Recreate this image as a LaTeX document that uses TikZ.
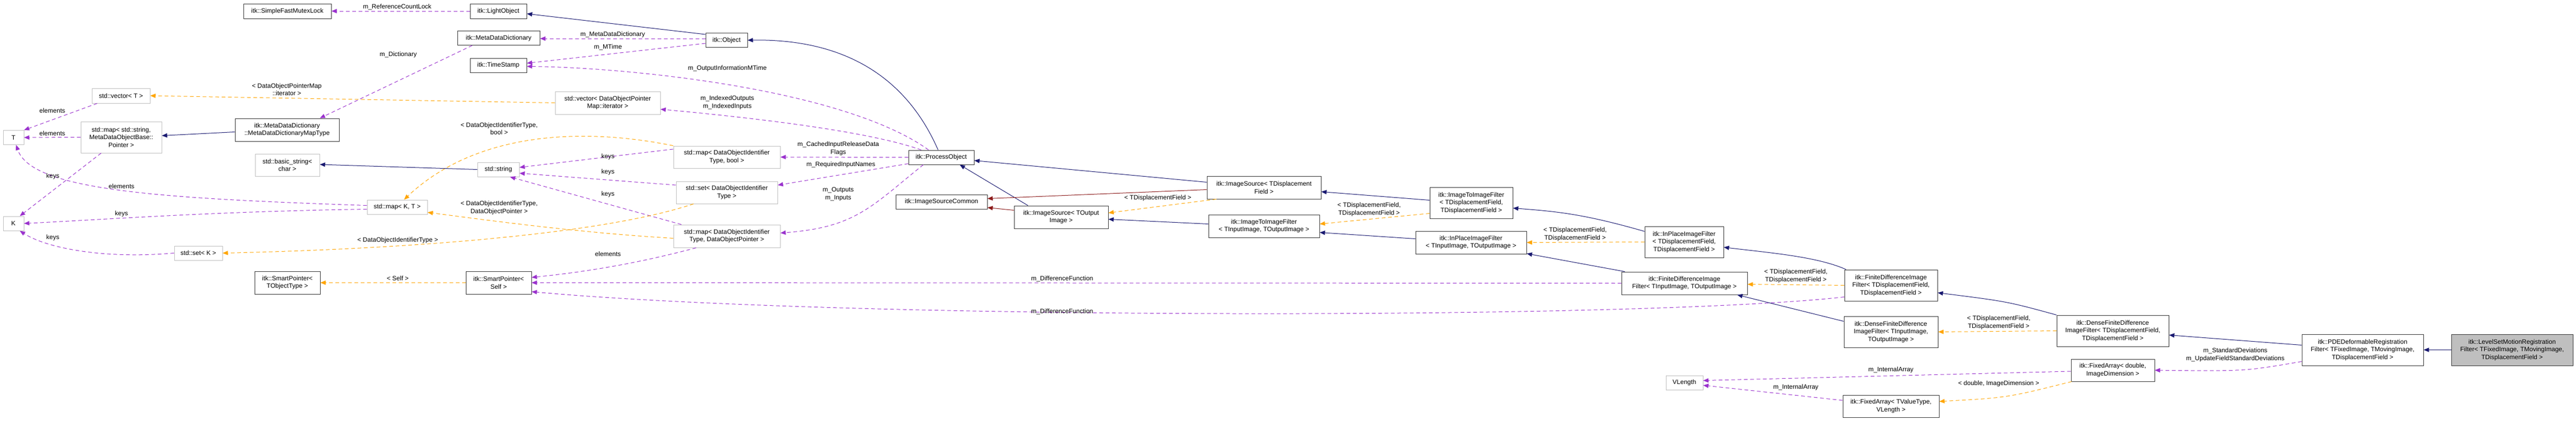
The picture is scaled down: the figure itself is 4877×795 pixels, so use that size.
\documentclass[tikz,border=0pt]{standalone}
\usepackage{fontspec}
\setmainfont{Liberation Sans}
\usetikzlibrary{arrows.meta}
\definecolor{navyc}{HTML}{191970}
\definecolor{purc}{HTML}{9A32CD}
\definecolor{orac}{HTML}{FFA500}
\definecolor{redc}{HTML}{8B1A1A}
\definecolor{grayb}{HTML}{BFBFBF}
\begin{document}
\begin{tikzpicture}[x=1pt,y=-1pt,
  box/.style={draw=black!80,line width=1pt,fill=white,inner sep=1pt,align=center,font=\fontsize{12}{14.5}\selectfont},
  gbox/.style={box,draw=grayb},
  lab/.style={inner sep=0pt,align=center,font=\fontsize{12}{14.5}\selectfont},
  tip/.style={-{Triangle[length=10pt,width=8pt]}},
  inh/.style={tip,draw=navyc,line width=1pt},
  priv/.style={tip,draw=redc,line width=1pt},
  use/.style={tip,draw=purc,line width=1pt,dash pattern=on 7pt off 5pt},
  tmpl/.style={tip,draw=orac,line width=1pt,dash pattern=on 7pt off 5pt}]
\useasboundingbox (0,0) rectangle (4877,795);
% nodes
\node[box,minimum width=166pt,minimum height=28pt] (sfml) at (544,21) {itk::SimpleFastMutexLock};
\node[box,minimum width=107pt,minimum height=28pt] (light) at (943.5,21) {itk::LightObject};
\node[box,minimum width=156pt,minimum height=27pt] (mdd) at (944,72) {itk::MetaDataDictionary};
\node[box,minimum width=107pt,minimum height=27pt] (ts) at (943.5,123.5) {itk::TimeStamp};
\node[box,minimum width=79pt,minimum height=27pt] (obj) at (1375.5,76) {itk::Object};
\node[gbox,minimum width=110pt,minimum height=28pt] (vecT) at (229,181) {std::vector< T >};
\node[gbox,minimum width=39pt,minimum height=27pt] (T) at (25.5,260) {T};
\node[gbox,minimum width=153pt,minimum height=59pt] (mapS) at (229.5,259.5) {std::map< std::string,\\MetaDataObjectBase::\\Pointer >};
\node[box,minimum width=197pt,minimum height=43pt] (mddm) at (543.5,245.5) {itk::MetaDataDictionary\\::MetaDataDictionaryMapType};
\node[gbox,minimum width=122pt,minimum height=42pt] (bstr) at (544,312) {std::basic\_string<\\char >};
\node[gbox,minimum width=39pt,minimum height=27pt] (K) at (25.5,422.5) {K};
\node[gbox,minimum width=91pt,minimum height=27pt] (setK) at (375.5,478.5) {std::set< K >};
\node[box,minimum width=124pt,minimum height=43pt] (spT) at (544,534.5) {itk::SmartPointer<\\TObjectType >};
\node[gbox,minimum width=199pt,minimum height=43pt] (vecD) at (1150.5,194.5) {std::vector< DataObjectPointer\\Map::iterator >};
\node[gbox,minimum width=79pt,minimum height=27pt] (str) at (943.5,320.5) {std::string};
\node[gbox,minimum width=114pt,minimum height=27pt] (mapKT) at (752,391.5) {std::map< K, T >};
\node[box,minimum width=124pt,minimum height=43pt] (spS) at (944,534.5) {itk::SmartPointer<\\Self >};
\node[gbox,minimum width=202pt,minimum height=42pt] (mapB) at (1376,297) {std::map< DataObjectIdentifier\\Type, bool >};
\node[gbox,minimum width=192pt,minimum height=42pt] (setD) at (1376,364) {std::set< DataObjectIdentifier\\Type >};
\node[gbox,minimum width=202pt,minimum height=43pt] (mapP) at (1376,446.5) {std::map< DataObjectIdentifier\\Type, DataObjectPointer >};
\node[box,minimum width=124pt,minimum height=27pt] (po) at (1782,297.5) {itk::ProcessObject};
\node[box,minimum width=173pt,minimum height=27pt] (isc) at (1782.5,381.5) {itk::ImageSourceCommon};
\node[box,minimum width=178pt,minimum height=43pt] (isO) at (2009,410.5) {itk::ImageSource< TOutput\\Image >};
\node[box,minimum width=216pt,minimum height=43pt] (isD) at (2393,354.5) {itk::ImageSource< TDisplacement\\Field >};
\node[box,minimum width=210pt,minimum height=43pt] (iiO) at (2393,427.5) {itk::ImageToImageFilter\\< TInputImage, TOutputImage >};
\node[box,minimum width=157pt,minimum height=59pt] (iiD) at (2785.5,383.5) {itk::ImageToImageFilter\\< TDisplacementField,\\TDisplacementField >};
\node[box,minimum width=210pt,minimum height=43pt] (ipO) at (2785,458.5) {itk::InPlaceImageFilter\\< TInputImage, TOutputImage >};
\node[box,minimum width=149pt,minimum height=59pt] (ipD) at (3188.5,457.5) {itk::InPlaceImageFilter\\< TDisplacementField,\\TDisplacementField >};
\node[box,minimum width=238pt,minimum height=43pt] (fdO) at (3189,535.5) {itk::FiniteDifferenceImage\\Filter< TInputImage, TOutputImage >};
\node[gbox,minimum width=70pt,minimum height=27pt] (vlen) at (3189,723.5) {VLength};
\node[box,minimum width=176pt,minimum height=59pt] (fdD) at (3580,539.5) {itk::FiniteDifferenceImage\\Filter< TDisplacementField,\\TDisplacementField >};
\node[box,minimum width=178pt,minimum height=59pt] (dfO) at (3580,627.5) {itk::DenseFiniteDifference\\ImageFilter< TInputImage,\\TOutputImage >};
\node[box,minimum width=212pt,minimum height=59pt] (dfD) at (4000,625.5) {itk::DenseFiniteDifference\\ImageFilter< TDisplacementField,\\TDisplacementField >};
\node[box,minimum width=158pt,minimum height=42pt] (faD) at (4000,700) {itk::FixedArray< double,\\ImageDimension >};
\node[box,minimum width=182pt,minimum height=42pt] (faV) at (3580,768) {itk::FixedArray< TValueType,\\VLength >};
\node[box,minimum width=230pt,minimum height=59pt] (pde) at (4473,661.5) {itk::PDEDeformableRegistration\\Filter< TFixedImage, TMovingImage,\\TDisplacementField >};
\node[box,fill=grayb,minimum width=230pt,minimum height=59pt] (ls) at (4756,661.5) {itk::LevelSetMotionRegistration\\Filter< TFixedImage, TMovingImage,\\TDisplacementField >};
% edges
\draw[use] (light) -- (sfml);
\draw[inh] ([yshift=11pt]obj.west) -- ([yshift=-5pt]light.east);
\draw[use] ([yshift=3pt]obj.west) -- ([yshift=-1pt]mdd.east);
\draw[use] ([yshift=-6pt]obj.west) -- ([yshift=4pt]ts.east);
\draw[use] ([xshift=-24pt]po.north) .. controls (1600,170) and (1200,128) .. ([yshift=-2pt]ts.east);
\draw[inh] ([xshift=-6pt]po.north) .. controls (1700,110) and (1550,74) .. (obj.east);
\draw[use] ([xshift=-38pt]po.north) .. controls (1650,250) and (1450,225) .. ([yshift=-12pt]vecD.east);
\draw[use] (po.west) -- (mapB.east);
\draw[use] ([yshift=-12pt]po.west) -- ([yshift=14pt]setD.east);
\draw[use] ([xshift=-34pt]po.south) .. controls (1650,390) and (1620,430) .. ([yshift=6pt]mapP.east);
\draw[use] ([xshift=-50pt]mdd.south) -- ([xshift=62pt]mddm.north);
\draw[inh] ([yshift=-4pt]mddm.west) -- ([yshift=3pt]mapS.east);
\draw[use] (mapS.west) -- (T.east);
\draw[use] ([xshift=-45pt]vecT.south) -- (T.north east);
\draw[use] ([xshift=-38pt]mapS.south) -- ([xshift=-8pt]K.north east);
\draw[tmpl] (vecD.west) -- (vecT.east);
\draw[use] ([yshift=3pt]mapKT.west) .. controls (300,375) and (60,360) .. ([xshift=5pt]T.south);
\draw[use] ([yshift=-4pt]mapKT.west) .. controls (400,400) and (200,415) .. (K.east);
\draw[use] (setK.west) .. controls (200,490) and (90,470) .. ([xshift=12pt]K.south);
\draw[inh] (str.west) -- ([yshift=1pt]bstr.east);
\draw[use] ([yshift=15pt]mapB.west) -- ([yshift=4pt]str.east);
\draw[use] ([yshift=14pt]setD.west) -- ([yshift=-7pt]str.east);
\draw[use] ([xshift=-86pt]mapP.north) -- ([xshift=22pt]str.south);
\draw[tmpl] (mapB.north west) .. controls (1100,240) and (900,250) .. ([xshift=13pt]mapKT.north);
\draw[tmpl] ([yshift=-4pt]mapP.west) .. controls (1100,440) and (950,420) .. ([yshift=-10pt]mapKT.east);
\draw[tmpl] ([xshift=-63pt]setD.south) .. controls (1150,440) and (800,470) .. (setK.east);
\draw[use] ([xshift=-58pt]mapP.south) .. controls (1200,500) and (1100,515) .. ([yshift=10pt]spS.east);
\draw[tmpl] (spS.west) -- (spT.east);
\draw[use] (fdO.west) -- (spS.east);
\draw[use] ([yshift=-22pt]fdD.west) .. controls (3100,605) and (1600,605) .. ([yshift=-17pt]spS.east);
\draw[inh] ([xshift=-63pt]isO.north) -- ([xshift=35pt]po.south);
\draw[priv] ([yshift=13pt]isO.west) -- ([yshift=-11pt]isc.east);
\draw[inh] ([yshift=10pt]isD.west) -- ([yshift=-6pt]po.east);
\draw[priv] ([yshift=-4pt]isD.west) -- ([yshift=6pt]isc.east);
\draw[tmpl] ([xshift=-90pt]isD.south) -- ([yshift=8pt]isO.east);
\draw[inh] ([yshift=4pt]iiO.west) -- ([yshift=-4pt]isO.east);
\draw[inh] ([yshift=5pt]iiD.west) -- ([yshift=-8pt]isD.east);
\draw[tmpl] ([yshift=-20pt]iiD.west) -- ([yshift=4pt]iiO.east);
\draw[inh] ([yshift=7pt]ipO.west) -- ([yshift=-12pt]iiO.east);
\draw[inh] ([yshift=20pt]ipD.west) .. controls (3000,405) and (2950,400) .. ([yshift=-10pt]iiD.east);
\draw[tmpl] (ipD.west) -- (ipO.east);
\draw[inh] ([xshift=-113pt]fdO.north) -- ([yshift=-21pt]ipO.east);
\draw[inh] ([xshift=-85pt]fdD.north) .. controls (3440,485) and (3350,478) .. ([yshift=-10pt]ipD.east);
\draw[tmpl] (fdD.west) -- ([yshift=-2pt]fdO.east);
\draw[inh] ([yshift=20pt]dfO.west) -- ([xshift=100pt]fdO.south);
\draw[inh] (dfD.north west) .. controls (3800,570) .. ([yshift=-14pt]fdD.east);
\draw[tmpl] (dfD.west) -- (dfO.east);
\draw[inh] ([yshift=9pt]pde.west) -- ([yshift=-8pt]dfD.east);
\draw[inh] (ls.west) -- (pde.east);
\draw[use] ([yshift=-22pt]pde.west) .. controls (4250,702) .. (faD.east);
\draw[use] ([yshift=-2pt]faD.west) -- ([yshift=4pt]vlen.east);
\draw[use] ([yshift=11pt]faV.west) -- ([yshift=-5pt]vlen.east);
\draw[tmpl] ([xshift=-78pt]faD.south) .. controls (3800,752) .. ([yshift=9pt]faV.east);
% labels
\node[lab] (l1) at (752,13) {m\_ReferenceCountLock};
\node[lab] (l2) at (1160,65) {m\_MetaDataDictionary};
\node[lab] (l3) at (1151,89) {m\_MTime};
\node[lab] (l4) at (754,103) {m\_Dictionary};
\node[lab] (l5) at (1377,129) {m\_OutputInformationMTime};
\node[lab] (l6) at (1377,194) {m\_IndexedOutputs\\m\_IndexedInputs};
\node[lab] (l7) at (543,169) {< DataObjectPointerMap\\::iterator >};
\node[lab] (l8) at (99,209) {elements};
\node[lab] (l9) at (99,252) {elements};
\node[lab] (l10) at (100,333) {keys};
\node[lab] (l11) at (230,352) {elements};
\node[lab] (l12) at (230,404) {keys};
\node[lab] (l13) at (100,449) {keys};
\node[lab] (l14) at (945,243) {< DataObjectIdentifierType,\\bool >};
\node[lab] (l15) at (1151,296) {keys};
\node[lab] (l16) at (1151,325) {keys};
\node[lab] (l17) at (1151,367) {keys};
\node[lab] (l18) at (945,393) {< DataObjectIdentifierType,\\DataObjectPointer >};
\node[lab] (l19) at (753,454) {< DataObjectIdentifierType >};
\node[lab] (l20) at (1151,480) {elements};
\node[lab] (l21) at (753,526) {< Self >};
\node[lab] (l22) at (1587,281) {m\_CachedInputReleaseData\\Flags};
\node[lab] (l23) at (1592,311) {m\_RequiredInputNames};
\node[lab] (l24) at (1587,367) {m\_Outputs\\m\_Inputs};
\node[lab] (l25) at (2011,527) {m\_DifferenceFunction};
\node[lab] (l26) at (2011,589) {m\_DifferenceFunction};
\node[lab] (l27) at (2192,374) {< TDisplacementField >};
\node[lab] (l28) at (2592,396) {< TDisplacementField,\\TDisplacementField >};
\node[lab] (l29) at (2982,443) {< TDisplacementField,\\TDisplacementField >};
\node[lab] (l30) at (3400,522) {< TDisplacementField,\\TDisplacementField >};
\node[lab] (l31) at (3784,610) {< TDisplacementField,\\TDisplacementField >};
\node[lab] (l32) at (4232,671) {m\_StandardDeviations\\m\_UpdateFieldStandardDeviations};
\node[lab] (l33) at (3580,699) {m\_InternalArray};
\node[lab] (l34) at (3400,732) {m\_InternalArray};
\node[lab] (l35) at (3784,725) {< double, ImageDimension >};
\end{tikzpicture}
\end{document}
